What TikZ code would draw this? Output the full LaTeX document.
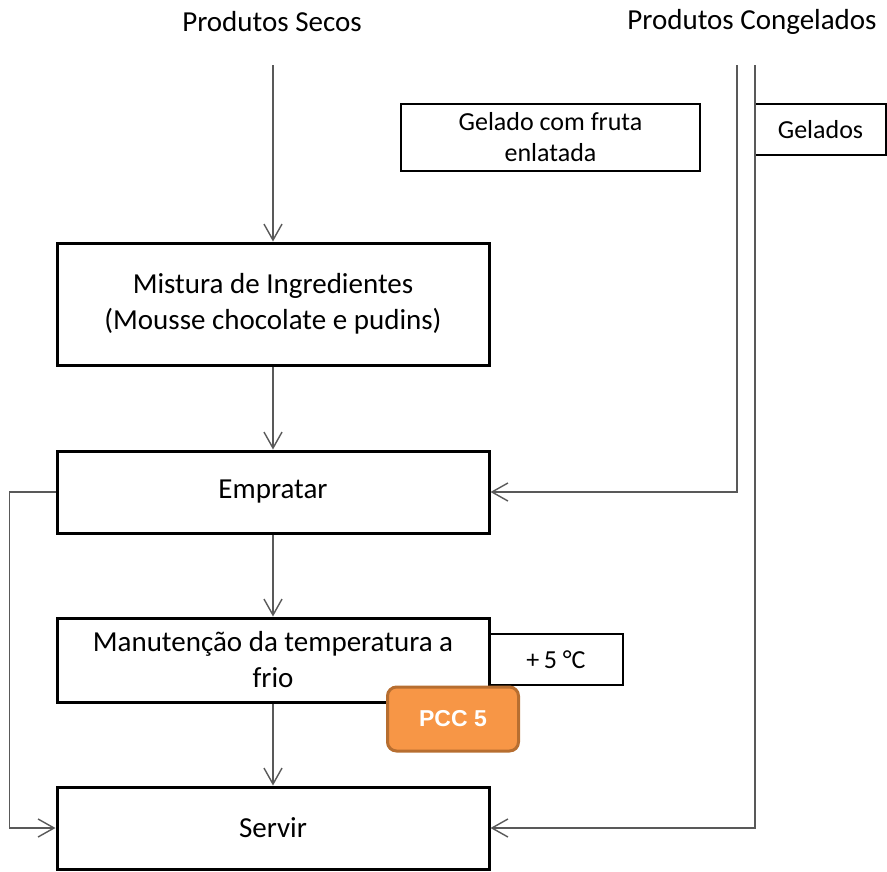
\documentclass[tikz,border=0pt]{standalone}
\usepackage{fontspec}
\setmainfont{Carlito}
\newfontfamily\pccfont{Liberation Sans}
\usetikzlibrary{graphs}
\usetikzlibrary{arrows.meta}
\definecolor{pccfill}{RGB}{247,150,70}
\definecolor{pccdraw}{RGB}{183,110,48}
\definecolor{linegray}{RGB}{89,89,89}
\tikzset{
  box/.style= {draw, line width=3pt, align=center, inner sep=0, font=\fontsize{29}{36}\selectfont},
  sbox/.style= {draw, line width=1.8pt, align=center, inner sep=0, font=\fontsize{26}{31}\selectfont},
  title/.style= {font=\fontsize{29}{36}\selectfont},
  pcc/.style= {draw=pccdraw, fill=pccfill, line width=3pt, rounded corners=9pt, text=white,
    font=\pccfont\bfseries\fontsize{23}{28}\selectfont},
  conn/.style= {draw=linegray, line width=1.4pt},
}

\begin{document}
\begin{tikzpicture}[x=1pt, y=-1pt, >={Straight Barb[length=16pt,width=18pt]}]
  \useasboundingbox (0,0) rectangle (887,871);
  \node [title] (secostxt) at (272,22) {Produtos Secos} ;
  \node [title] (congtxt) at (752,22) {Produtos Congelados} ;
  \coordinate (secos) at (273,65) ;
  \coordinate (cong1) at (737,65) ;
  \coordinate (cong2) at (755,65) ;

  \node [sbox, minimum width=299, minimum height=67] (fruta) at (550.5,137.5) {Gelado com fruta\\enlatada} ;
  \node [sbox, minimum width=131, minimum height=51] (gelados) at (820.5,129.5) {Gelados} ;

  \node [box, minimum width=432, minimum height=122] (mist) at (273,304) {Mistura de Ingredientes\\(Mousse chocolate e pudins)} ;
  \node [box, minimum width=432, minimum height=82] (emp) at (273,492) {Empratar} ;
  \node [box, minimum width=432, minimum height=84] (man) at (273,660) {Manutenção da temperatura a\\frio} ;
  \node [sbox, minimum width=134, minimum height=51] (temp) at (556,659.5) {+\,5 °C} ;
  \node [box, minimum width=432, minimum height=82] (serv) at (273,828) {Servir} ;

  \graph [edges={conn}] {
    (secos) -> (mist) -> (emp) -> (man) -> (serv) ;
  } ;
  \draw [conn, ->] (cong1) |- (emp.east) ;
  \draw [conn, ->] (cong2) |- (serv.east) ;
  \draw [conn, ->] (emp.west) -- ++(-46,0) |- (serv.west) ;

  \node [pcc, minimum width=131, minimum height=64] (pcc5) at (453,719) {PCC 5} ;
\end{tikzpicture}
\end{document}
